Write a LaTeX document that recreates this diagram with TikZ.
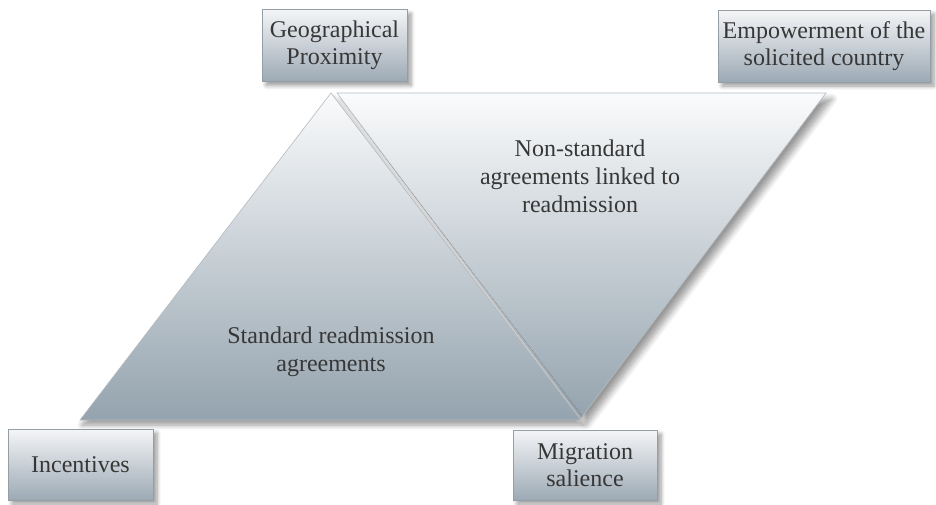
\documentclass[tikz,border=0pt]{standalone}
\usepackage{fontspec}
\setmainfont{Liberation Serif}
\usetikzlibrary{shadows.blur}
\definecolor{boxtop}{RGB}{244,245,247}
\definecolor{boxbot}{RGB}{156,169,180}
\definecolor{shtop}{RGB}{250,251,252}
\definecolor{shbot}{RGB}{148,163,174}
\definecolor{txt}{RGB}{55,55,55}
\definecolor{edge}{RGB}{150,158,165}
\tikzset{
  factor/.style={draw=edge, line width=0.8pt, top color=boxtop, bottom color=boxbot,
    align=center, inner sep=2pt, text=txt,
    font=\fontsize{24}{27}\selectfont,
    blur shadow={shadow xshift=4pt, shadow yshift=-4pt, shadow blur radius=4pt, shadow blur steps=6}},
  region/.style={draw=edge!70, line width=0.6pt, top color=shtop, bottom color=shbot,
    blur shadow={shadow xshift=6pt, shadow yshift=-6pt, shadow blur radius=6pt, shadow blur steps=8}},
  lregion/.style={draw=edge!70, line width=0.6pt, top color=shtop, bottom color=shbot,
    blur shadow={shadow xshift=2pt, shadow yshift=-5pt, shadow blur radius=5pt, shadow blur steps=8}},
  label/.style={align=center, text=txt, font=\fontsize{24}{28}\selectfont}
}
\begin{document}
\begin{tikzpicture}[x=1pt,y=-1pt]
\useasboundingbox (0,0) rectangle (936,504);
% regions
\coordinate (tA) at (331,93);
\coordinate (tL) at (80,420);
\coordinate (tR) at (581,420);
\coordinate (iL) at (337,93);
\coordinate (iR) at (826,93);
\coordinate (iB) at (581,418);
\path[region] (iL) -- (iR) -- (iB) -- cycle;
\path[lregion] (tA) -- (tR) -- (tL) -- cycle;
\node[label] (std) at (331,352) {Standard readmission\\agreements};
\node[label] (nstd) at (580,176) {Non-standard\\agreements linked to\\readmission};
% factor boxes
\node[factor, minimum width=145pt, minimum height=72pt] (geo) at (334.5,45.5) {Geographical\\Proximity};
\node[factor, minimum width=212pt, minimum height=72pt] (emp) at (824,46) {Empowerment of the\\solicited country};
\node[factor, minimum width=145pt, minimum height=71pt] (inc) at (80.5,464.5) {Incentives};
\node[factor, minimum width=144pt, minimum height=70pt] (mig) at (585,465) {Migration\\salience};
\end{tikzpicture}
\end{document}
